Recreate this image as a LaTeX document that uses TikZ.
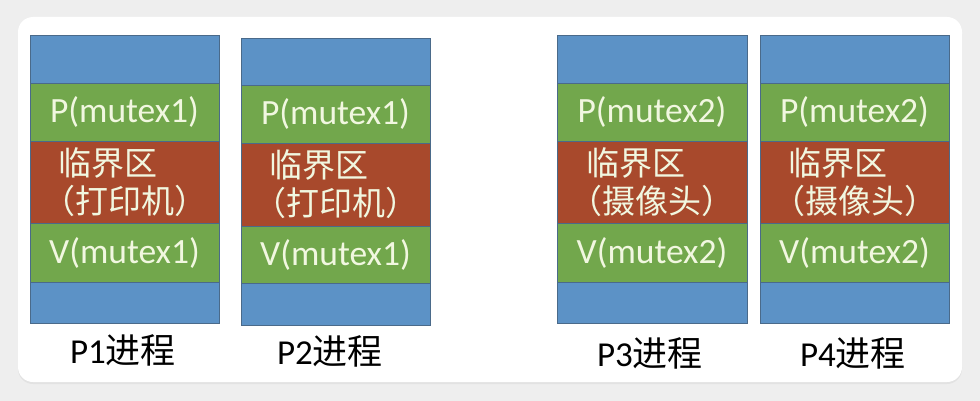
\documentclass[tikz,border=0pt]{standalone}
\usepackage{fontspec}
\setmainfont{Carlito}
\newfontfamily\cjk{Noto Sans CJK SC}
\usetikzlibrary{shadows}

\definecolor{pagegray}{RGB}{238,238,238}
\definecolor{segblue}{RGB}{92,146,198}
\definecolor{seggreen}{RGB}{114,167,76}
\definecolor{segred}{RGB}{168,73,44}
\definecolor{segedge}{RGB}{74,106,138}
\definecolor{segtext}{RGB}{241,247,224}

\tikzset{
  seg/.style={rectangle, draw=segedge, line width=0.9pt, inner sep=0pt,
    minimum width=189pt, text=segtext},
  stackbox/.style={seg, fill=segblue},
  lockbox/.style={seg, fill=seggreen, font=\fontsize{35.5}{40}\selectfont},
  critbox/.style={seg, fill=segred, align=center,
    font=\cjk\fontsize{33}{38}\selectfont},
  proclabel/.style={font=\fontsize{35}{40}\selectfont, text=black}
}

\begin{document}
\begin{tikzpicture}[x=1pt,y=-1pt]

\useasboundingbox (0,0) rectangle (980,401);
\fill[pagegray] (0,0) rectangle (980,401);
\fill[white, rounded corners=15pt,
  drop shadow={opacity=0.10, shadow xshift=0pt, shadow yshift=-2pt}]
  (18,17) rectangle (962,382);

% P1
\node[stackbox, minimum height=48pt] (p1top) at (124.5,59) {};
\node[lockbox, minimum height=58pt] (p1lock) at (124.5,112) {P(mutex1)};
\node[critbox, minimum height=82pt] (p1crit) at (124.5,182) {临界区\phantom{区}\\（打印机）};
\node[lockbox, minimum height=59pt] (p1unlock) at (124.5,252.5) {V(mutex1)};
\node[stackbox, minimum height=41pt] (p1bot) at (124.5,302.5) {};
\node[proclabel] (p1name) at (123,350) {P1{\cjk 进程}};

% P2
\node[stackbox, minimum height=47pt] (p2top) at (335.5,61.5) {};
\node[lockbox, minimum height=58pt] (p2lock) at (335.5,114) {P(mutex1)};
\node[critbox, minimum height=83pt] (p2crit) at (335.5,184.5) {临界区\phantom{区}\\（打印机）};
\node[lockbox, minimum height=57pt] (p2unlock) at (335.5,254.5) {V(mutex1)};
\node[stackbox, minimum height=42pt] (p2bot) at (335.5,304) {};
\node[proclabel] (p2name) at (330,351) {P2{\cjk 进程}};

% P3
\node[stackbox, minimum height=48pt, minimum width=190pt] (p3top) at (652,59) {};
\node[lockbox, minimum height=58pt, minimum width=190pt] (p3lock) at (652,112) {P(mutex2)};
\node[critbox, minimum height=82pt, minimum width=190pt] (p3crit) at (652,182) {临界区\phantom{区}\\（摄像头）};
\node[lockbox, minimum height=59pt, minimum width=190pt] (p3unlock) at (652,252.5) {V(mutex2)};
\node[stackbox, minimum height=41pt, minimum width=190pt] (p3bot) at (652,302.5) {};
\node[proclabel] (p3name) at (650,353) {P3{\cjk 进程}};

% P4
\node[stackbox, minimum height=48pt] (p4top) at (854.5,59) {};
\node[lockbox, minimum height=58pt] (p4lock) at (854.5,112) {P(mutex2)};
\node[critbox, minimum height=82pt] (p4crit) at (854.5,182) {临界区\phantom{区}\\（摄像头）};
\node[lockbox, minimum height=59pt] (p4unlock) at (854.5,252.5) {V(mutex2)};
\node[stackbox, minimum height=41pt] (p4bot) at (854.5,302.5) {};
\node[proclabel] (p4name) at (853,353) {P4{\cjk 进程}};

\end{tikzpicture}
\end{document}
